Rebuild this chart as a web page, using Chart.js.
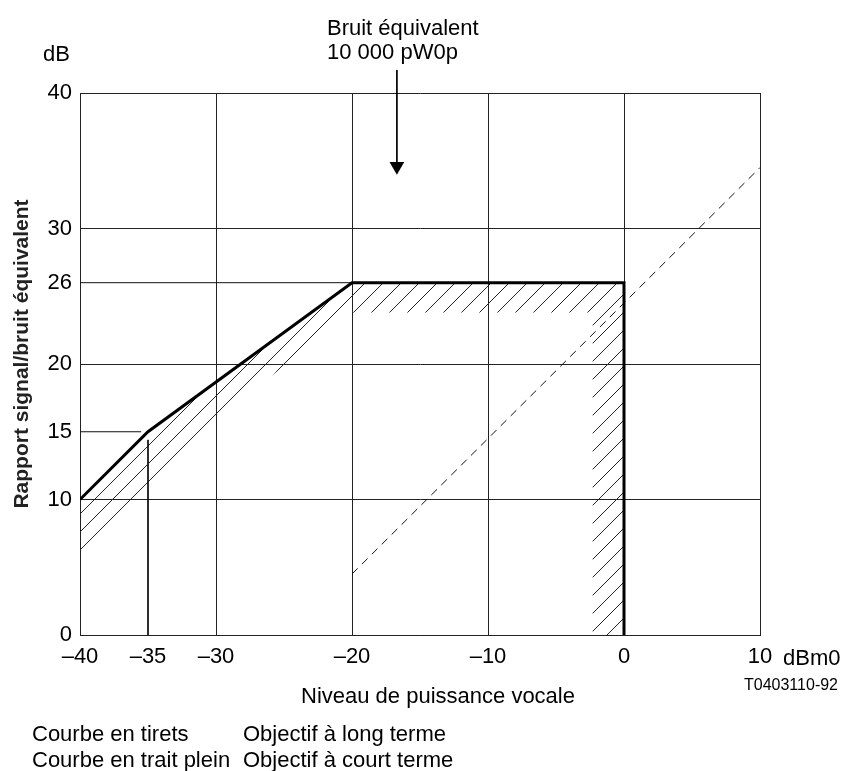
<!DOCTYPE html>
<html>
<head>
<meta charset="utf-8">
<script src="https://cdn.jsdelivr.net/npm/chart.js@4.4.1/dist/chart.umd.min.js"></script>
<style>
  html, body { margin: 0; padding: 0; background: #fff; }
</style>
</head>
<body>
<canvas id="chart" width="846" height="771"></canvas>
<script>
// ticks
const xTicks = [-40, -35, -30, -20, -10, 0, 10];
const yTicks = [0, 10, 15, 20, 26, 30, 40];

// objectif à court terme (courbe en trait plein)
const shortX = [-40, -35, -20, 0, 0];
const shortY = [10, 15, 26, 26, 0];

// objectif à long terme (courbe en tirets)
const longX = [-20, 10];
const longY = [4.5, 34.5];

// zone hachurée (contour)
const hatchX = [-40, -35, -20, 0, 0, -2.3, -2.3, -20, -28, -40];
const hatchY = [10, 15, 26, 26, 0, 0, 23.8, 23.8, 17.5, 5.8];

// traits de repère partiels
const ref15X = [-40, -35.5];
const ref15Y = [15, 15];
const ref35X = [-35, -35];
const ref35Y = [14.4, 0];
const ref26X = [-40, -20];
const ref26Y = [26, 26];

// flèche "Bruit équivalent"
const arrowX = [-16.7, -16.7];
const arrowY = [41.7, 34.6];

const pts = (xs, ys) => xs.map((x, i) => ({ x: x, y: ys[i] }));

function hatchPattern() {
  const s = 18;
  const c = document.createElement('canvas');
  c.width = s; c.height = s;
  const g = c.getContext('2d');
  g.strokeStyle = '#222';
  g.lineWidth = 1;
  g.beginPath();
  g.moveTo(-2, s + 2); g.lineTo(s + 2, -2);
  g.moveTo(-2, 2); g.lineTo(2, -2);
  g.moveTo(s - 2, s + 2); g.lineTo(s + 2, s - 2);
  g.stroke();
  return g.createPattern(c, 'repeat');
}

const font22 = '22px "Liberation Sans", Arial, sans-serif';

const textPlugin = {
  id: 'textes',
  afterDraw(chart) {
    const ctx = chart.ctx;
    ctx.save();
    ctx.fillStyle = '#000';
    ctx.font = font22;
    ctx.textAlign = 'left';
    ctx.textBaseline = 'alphabetic';
    ctx.fillText('Bruit équivalent', 327, 35);
    ctx.fillText('10 000 pW0p', 327, 59);
    ctx.fillText('dB', 43, 61);
    ctx.fillText('dBm0', 783, 665);
    ctx.fillText('Courbe en tirets', 32, 741);
    ctx.fillText('Objectif à long terme', 243, 741);
    ctx.fillText('Courbe en trait plein', 32, 767);
    ctx.fillText('Objectif à court terme', 243, 767);
    ctx.textAlign = 'center';
    ctx.fillText('Niveau de puissance vocale', 438, 703);
    ctx.font = '16px "Liberation Sans Narrow", "Liberation Sans", Arial, sans-serif';
    ctx.textAlign = 'right';
    ctx.fillText('T0403110-92', 838, 690);
    // titre vertical
    ctx.translate(22, 354);
    ctx.rotate(-Math.PI / 2);
    ctx.textAlign = 'center';
    ctx.textBaseline = 'middle';
    ctx.fillStyle = '#222';
    ctx.font = 'bold 21px "Liberation Sans", Arial, sans-serif';
    ctx.fillText('Rapport signal/bruit équivalent', 0, 0);
    ctx.restore();
  }
};

const thin = { showLine: true, borderColor: '#111', borderWidth: 1, pointRadius: 0 };

const chart = new Chart(document.getElementById('chart'), {
  type: 'scatter',
  data: {
    datasets: [
      { ...thin, data: pts(shortX, shortY), borderWidth: 3, borderColor: '#000' },
      {
        ...thin, data: pts(arrowX, arrowY), clip: false, borderColor: '#000',
        pointRadius: [0, 8.5], pointStyle: 'triangle', rotation: 180,
        pointBackgroundColor: '#000', pointBorderColor: '#000', pointBorderWidth: 0
      },
      { ...thin, data: pts(longX, longY), borderDash: [8, 6] },
      { ...thin, data: pts(ref15X, ref15Y) },
      { ...thin, data: pts(ref35X, ref35Y) },
      { ...thin, data: pts(ref26X, ref26Y) },
      {
        showLine: true, data: pts(hatchX, hatchY), borderWidth: 0,
        borderColor: 'rgba(0,0,0,0)', pointRadius: 0,
        fill: 'shape', backgroundColor: hatchPattern()
      }
    ]
  },
  options: {
    responsive: false,
    animation: false,
    layout: { padding: { left: 0, top: 93, right: 86, bottom: 96 } },
    plugins: {
      legend: { display: false },
      tooltip: { enabled: false }
    },
    scales: {
      x: {
        type: 'linear', min: -40, max: 10,
        afterBuildTicks: s => { s.ticks = xTicks.map(v => ({ value: v })); },
        afterFit: s => { s.height = 40; },
        ticks: {
          autoSkip: false, maxRotation: 0, padding: 9, color: '#000',
          font: { family: '"Liberation Sans", Arial, sans-serif', size: 22 },
          callback: v => (v < 0 ? '\u2013' + Math.abs(v) : String(v))
        },
        grid: {
          drawTicks: false, lineWidth: 1,
          color: c => (c.tick && c.tick.value === -35 ? 'rgba(0,0,0,0)' : '#222')
        },
        border: { color: '#222' }
      },
      y: {
        type: 'linear', min: 0, max: 40,
        afterBuildTicks: s => { s.ticks = yTicks.map(v => ({ value: v })); },
        afterFit: s => { s.width = 80; },
        ticks: {
          autoSkip: false, padding: 8, color: '#000',
          font: { family: '"Liberation Sans", Arial, sans-serif', size: 22 }
        },
        grid: {
          drawTicks: false, lineWidth: 1,
          color: c => (c.tick && (c.tick.value === 15 || c.tick.value === 26) ? 'rgba(0,0,0,0)' : '#222')
        },
        border: { color: '#222' }
      }
    }
  },
  plugins: [textPlugin]
});
</script>
</body>
</html>
